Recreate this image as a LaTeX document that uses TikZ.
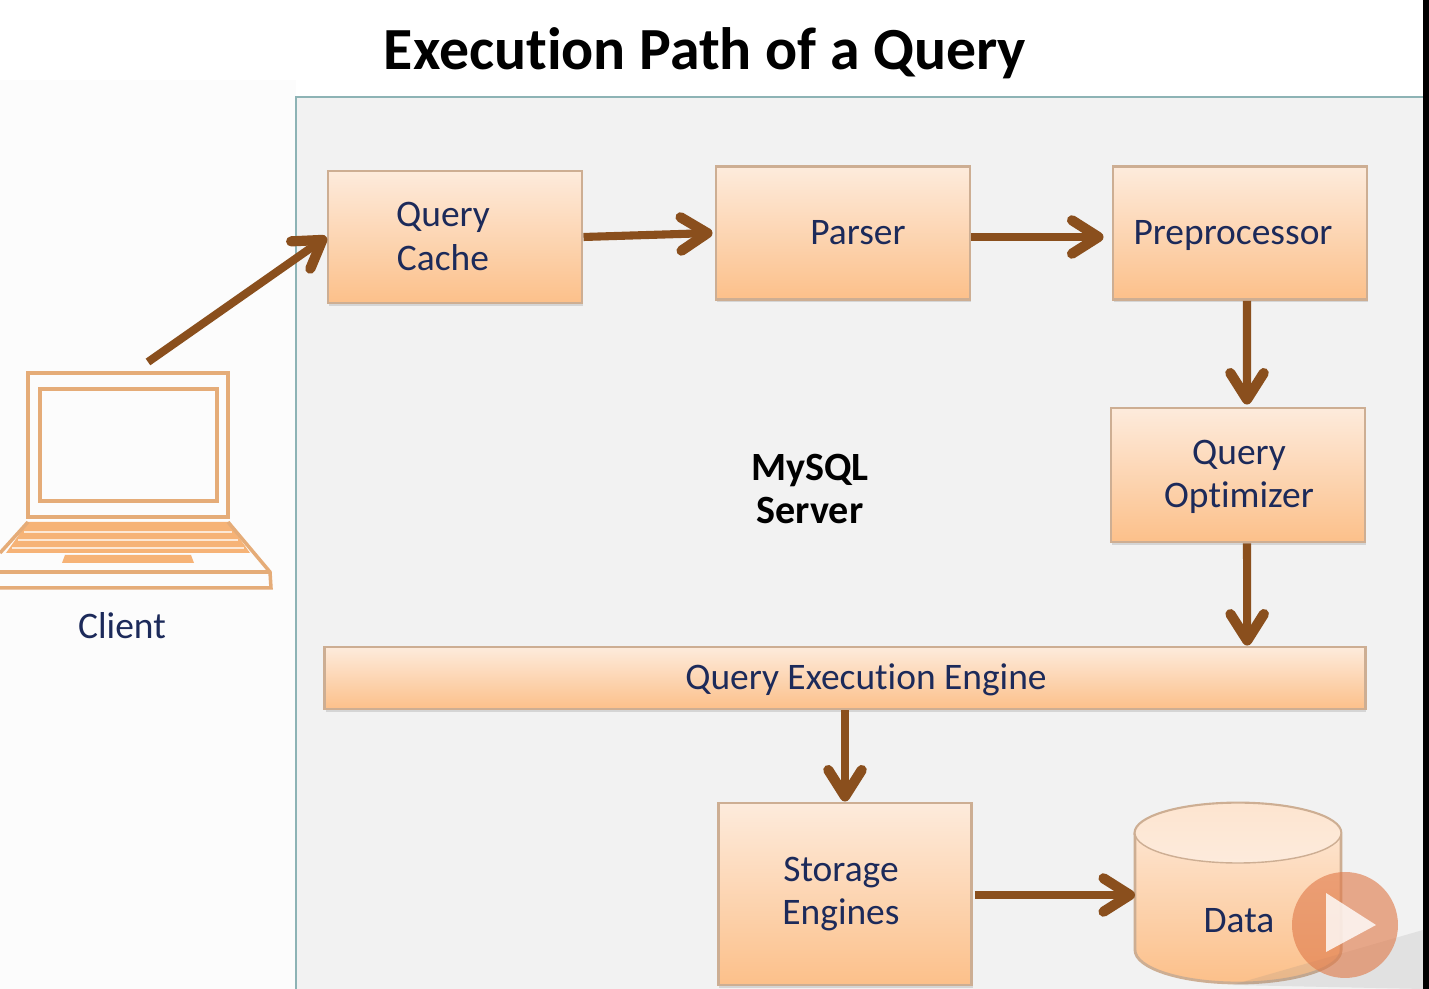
\documentclass[tikz,border=0pt]{standalone}
\usepackage{fontspec}
\setmainfont{Carlito}[Ligatures=NoCommon]
\usetikzlibrary{arrows.meta,shadows}
\definecolor{panelgray}{HTML}{F2F2F2}
\definecolor{panelline}{HTML}{8DB3B5}
\definecolor{leftwhite}{HTML}{FCFCFC}
\definecolor{boxline}{HTML}{CDAE93}
\definecolor{boxtop}{HTML}{FDEBDC}
\definecolor{boxbot}{HTML}{FCC08A}
\definecolor{flowbrown}{HTML}{8A4F1D}
\definecolor{labelblue}{HTML}{1C2A5A}
\definecolor{lapline}{HTML}{E5AC78}
\definecolor{lapfill}{HTML}{F6B377}
\definecolor{playorange}{HTML}{E07A4A}
\tikzset{
 qbox/.style={draw=boxline,line width=.8pt,top color=boxtop,bottom color=boxbot,inner sep=0pt,
  drop shadow={shadow xshift=.3pt,shadow yshift=-.8pt,opacity=.25}},
 qtext/.style={text=labelblue,align=center,font=\fontsize{10.65}{12.4}\selectfont},
 flow/.style={draw=flowbrown,line width=2.3pt,-{Straight Barb[round,length=7.5pt,width=9.5pt,line width=2.9pt]}},
 lap/.style={draw=lapline,line width=1pt},
}
\begin{document}
\begin{tikzpicture}[x=.01cm,y=-.01cm]
\useasboundingbox (0,0) rectangle (1429,989);
\fill[white] (0,0) rectangle (1429,989);
\fill[leftwhite] (0,80) rectangle (296,989);
\fill[panelgray] (296,97) rectangle (1423,989);
\draw[panelline,line width=.6pt] (296,989)--(296,97)--(1423,97);
\fill[black] (1423,0) rectangle (1429,989);
\node[font=\fontsize{17}{18}\selectfont\bfseries] (title) at (705,53) {Execution Path of a Query};

\node[qbox,minimum width=2.54cm,minimum height=1.32cm] (cache) at (455,237) {};
\node[qbox,minimum width=2.54cm,minimum height=1.33cm] (parser) at (843,233) {};
\node[qbox,minimum width=2.54cm,minimum height=1.33cm] (prep) at (1240,233) {};
\node[qbox,minimum width=2.54cm,minimum height=1.34cm] (optim) at (1238,475) {};
\node[qbox,minimum width=10.40cm,minimum height=.62cm] (engine) at (845,678) {};
\node[qbox,minimum width=2.53cm,minimum height=1.82cm] (storage) at (845,894) {};

%cylinder
\draw[boxline,line width=.8pt,top color=boxtop,bottom color=boxbot]
 (1135,833)--(1135,950) arc[start angle=180,end angle=360,x radius=1.03cm,y radius=.33cm]
 --(1341,833) arc[start angle=0,end angle=180,x radius=1.03cm,y radius=.3cm]--cycle;
\draw[boxline,line width=.4pt,top color=boxtop!85!boxbot,bottom color=boxtop]
 (1238,833) ellipse[x radius=1.03cm,y radius=.3cm];
\coordinate (data) at (1135,895);

\node[qtext] (cachetxt) at (443,236.5) {Query\\Cache};
\node[qtext] (parsertxt) at (858,233) {Parser};
\node[qtext] (preptxt) at (1233,236) {Preprocessor};
\node[qtext] (optimtxt) at (1239,477) {Query\\Optimizer};
\node[qtext] (enginetxt) at (866,680) {Query Execution Engine};
\node[qtext] (storagetxt) at (841,894) {Storage\\Engines};
\node[qtext] (datatxt) at (1239,921) {Data};
\node[qtext,text=black,font=\fontsize{11.4}{12.4}\selectfont\bfseries] (server) at (810,489) {MySQL\\Server};
\node[qtext] (clienttxt) at (122,626) {Client};

%laptop
\draw[lap] (28,373) rectangle (228,517);
\draw[lap] (40,389) rectangle (217,501);
\fill[lapfill] (28,522)--(228,522)--(250,553)--(6,553)--cycle;
\foreach \y/\a/\b in {532/24/232,540/18/238,548/12/244} \draw[white!70!lapfill,line width=.6pt] (\a,\y)--(\b,\y);
\fill[lapfill] (65,555)--(191,555)--(194,563)--(62,563)--cycle;
\draw[lap] (28,522)--(0,553);
\draw[lap] (228,522)--(270,572)--(271,588)--(0,588);
\draw[lap] (0,572)--(270,572);
\coordinate (client) at (148,362);

\draw[flow] (client)--(cache.west);
\draw[flow] (cache.east)--([xshift=-.02cm]parser.west);
\draw[flow] ([yshift=-.04cm]parser.east)--([xshift=-.08cm,yshift=-.04cm]prep.west);
\draw[flow] ([xshift=.07cm]prep.south)--([xshift=.09cm,yshift=.02cm]optim.north);
\draw[flow] ([xshift=.09cm]optim.south)--([xshift=4.02cm]engine.north);
\draw[flow] (engine.south)--(storage.north);
\draw[flow] ([yshift=-.01cm,xshift=.02cm]storage.east)--(data);

%player button
\fill[gray,opacity=.15] (1232,985)--(1423,930)--(1423,989)--cycle;
\fill[playorange,opacity=.62] (1345,925) circle (53);
\fill[white,opacity=.8] (1326,893)--(1376,925)--(1326,952)--cycle;
\end{tikzpicture}
\end{document}
